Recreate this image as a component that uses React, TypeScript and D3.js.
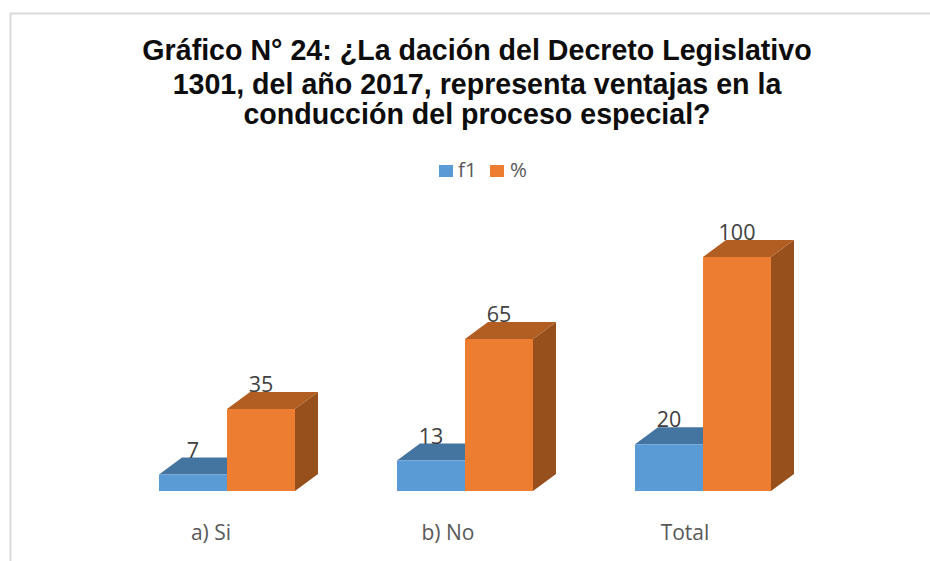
import React from "react";
import * as d3 from "d3";

const categories = ["a) Si", "b) No", "Total"];
const seriesNames = ["f1", "%"];
const f1Values = [7, 13, 20];
const pctValues = [35, 65, 100];
const titleLines = [
  "Gráfico N° 24: ¿La dación del Decreto Legislativo",
  "1301, del año 2017, representa ventajas en la",
  "conducción del proceso especial?",
];

const W = 930, H = 561, BASE = 491, DX = 23, DY = 17;
const x0 = d3.scaleBand<string>().domain(categories).range([159, 771]).paddingInner(102 / 238);
const x1 = d3.scaleBand<string>().domain(seriesNames).range([0, x0.bandwidth()]);
const y = d3.scaleLinear().domain([0, 100]).range([BASE, 257]);
const front = d3.scaleOrdinal<string>().domain(seriesNames).range(["#5b9bd5", "#ed7d31"]);
const topC = d3.scaleOrdinal<string>().domain(seriesNames).range(["#4475a1", "#b25e22"]);
const sideC = d3.scaleOrdinal<string>().domain(seriesNames).range(["#3a638a", "#97501c"]);
const line = d3.line();
const poly = (p: [number, number][]) => line(p) + "Z";
const labelFont = "'Open Sans', sans-serif";

export default function App() {
  const bars = seriesNames.flatMap((s, si) =>
    categories.map((c, ci) => ({ s, c, v: (si === 0 ? f1Values : pctValues)[ci] }))
  );
  return (
    <svg width={W} height={H} style={{ position: "absolute", left: 0, top: 0 }}>
      <rect width={W} height={H} fill="#fff" />
      <path d={`M10.5,${H}V13.5H${W}`} fill="none" stroke="#d9d9d9" strokeWidth={2} />
      {titleLines.map((t, i) => (
        <text key={i} x={477} y={[60, 94, 124][i]} textAnchor="middle" fontFamily="'Liberation Sans', Arial, sans-serif"
          fontWeight="bold" fontSize={28.6} fill="#0d0d0d">{t}</text>
      ))}
      {seriesNames.map((s, i) => (
        <g key={s}>
          <rect x={[439, 490][i]} y={165} width={14} height={12} fill={front(s)} />
          <text x={[458, 510][i]} y={177} fontFamily={labelFont} fontSize={20.5} fill="#595959">{s}</text>
        </g>
      ))}
      {bars.map(({ s, c, v }) => {
        const l = x0(c)! + x1(s)!, r = l + x1.bandwidth(), t = y(v);
        return (
          <g key={s + c}>
            <path d={poly([[r, BASE], [r + DX, BASE - DY], [r + DX, t - DY], [r, t]])} fill={sideC(s)} />
            <path d={poly([[l, t], [l + DX, t - DY], [r + DX, t - DY], [r, t]])} fill={topC(s)} />
            <path d={poly([[l, BASE], [l, t], [r, t], [r, BASE]])} fill={front(s)} />
          </g>
        );
      })}
      {bars.map(({ s, c, v }) => {
        const l = x0(c)! + x1(s)!;
        return (
          <text key={s + c} x={l + x1.bandwidth() / 2} y={y(v) - DY} textAnchor="middle"
            fontFamily={labelFont} fontSize={21.5} fill="#404040">{v}</text>
        );
      })}
      {categories.map((c, i) => (
        <text key={c} x={[211, 448, 685][i]} y={540} textAnchor="middle" fontFamily={labelFont} fontSize={21} fill="#595959">{c}</text>
      ))}
    </svg>
  );
}
